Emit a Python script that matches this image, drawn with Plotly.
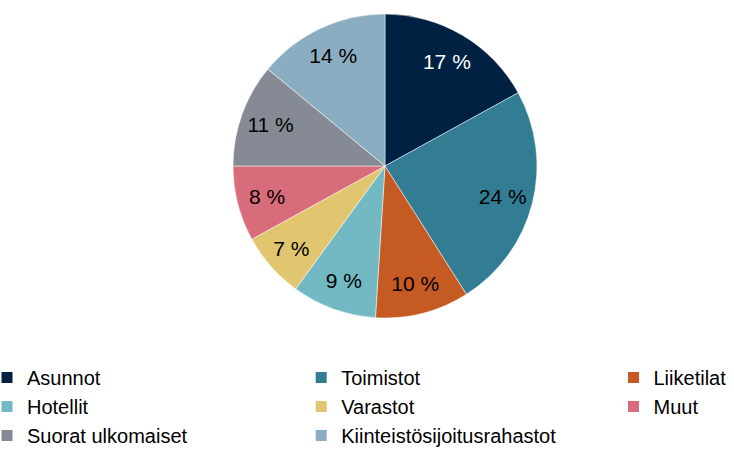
import plotly.graph_objects as go

categories = ["Asunnot", "Toimistot", "Liiketilat", "Hotellit", "Varastot", "Muut",
              "Suorat ulkomaiset", "Kiinteistösijoitusrahastot"]
values = [17, 24, 10, 9, 7, 8, 11, 14]
colors = ["#002142", "#327C94", "#C55A22", "#72B9C3", "#E1C66F", "#D96C7A", "#868A94", "#8BADC1"]
text_colors = ["#FFFFFF", "#000000", "#000000", "#000000", "#000000", "#000000", "#000000", "#000000"]
labels_text = [f"{v} %" for v in values]

FONT = "Liberation Sans, Arial, sans-serif"
pie_domain = dict(x=[0.3174, 0.7316], y=[0.2918, 0.9688])

fig = go.Figure()

# Filled pie (no labels)
fig.add_trace(go.Pie(
    labels=categories, values=values,
    textinfo="none",
    marker=dict(colors=colors, line=dict(color="#FFFFFF", width=0.5)),
    sort=False, direction="clockwise", rotation=0,
    domain=pie_domain, showlegend=False,
    hoverinfo="label+percent",
))

# Transparent ring on top carrying the percentage labels (places them near the rim)
fig.add_trace(go.Pie(
    labels=categories, values=values,
    text=labels_text, textinfo="text",
    textposition="inside", insidetextorientation="horizontal",
    insidetextfont=dict(color=text_colors, size=21, family=FONT),
    hole=0.6,
    marker=dict(colors=["rgba(0,0,0,0)"] * len(values), line=dict(width=0)),
    sort=False, direction="clockwise", rotation=0,
    domain=pie_domain, showlegend=False,
    hoverinfo="label+percent",
))

# Legend entries, three columns
legend_names = ["legend", "legend2", "legend3"]
for i, (cat, col) in enumerate(zip(categories, colors)):
    fig.add_trace(go.Scatter(
        x=[None], y=[None], mode="markers",
        marker=dict(symbol="square", size=11, color=col),
        name=cat, showlegend=True,
        legend=legend_names[i % 3], hoverinfo="skip",
    ))

legend_common = dict(
    orientation="v", yanchor="top", xanchor="left",
    bgcolor="rgba(0,0,0,0)", font=dict(size=20, family=FONT, color="#000000"),
    itemclick=False, itemdoubleclick=False,
)
legend_top = 1 - 358 / 449

fig.update_layout(
    width=734, height=449,
    margin=dict(l=0, r=0, t=0, b=0, autoexpand=False),
    paper_bgcolor="white", plot_bgcolor="white",
    font=dict(family=FONT, size=20, color="#000000"),
    xaxis=dict(visible=False), yaxis=dict(visible=False),
    legend=dict(x=-13 / 734, y=legend_top, **legend_common),
    legend2=dict(x=301.2 / 734, y=legend_top, **legend_common),
    legend3=dict(x=613.5 / 734, y=legend_top, **legend_common),
)

fig.write_html(
    "out.html",
    config={"displayModeBar": False},
    post_script="document.body.style.margin='0';document.body.style.overflow='hidden';",
)
